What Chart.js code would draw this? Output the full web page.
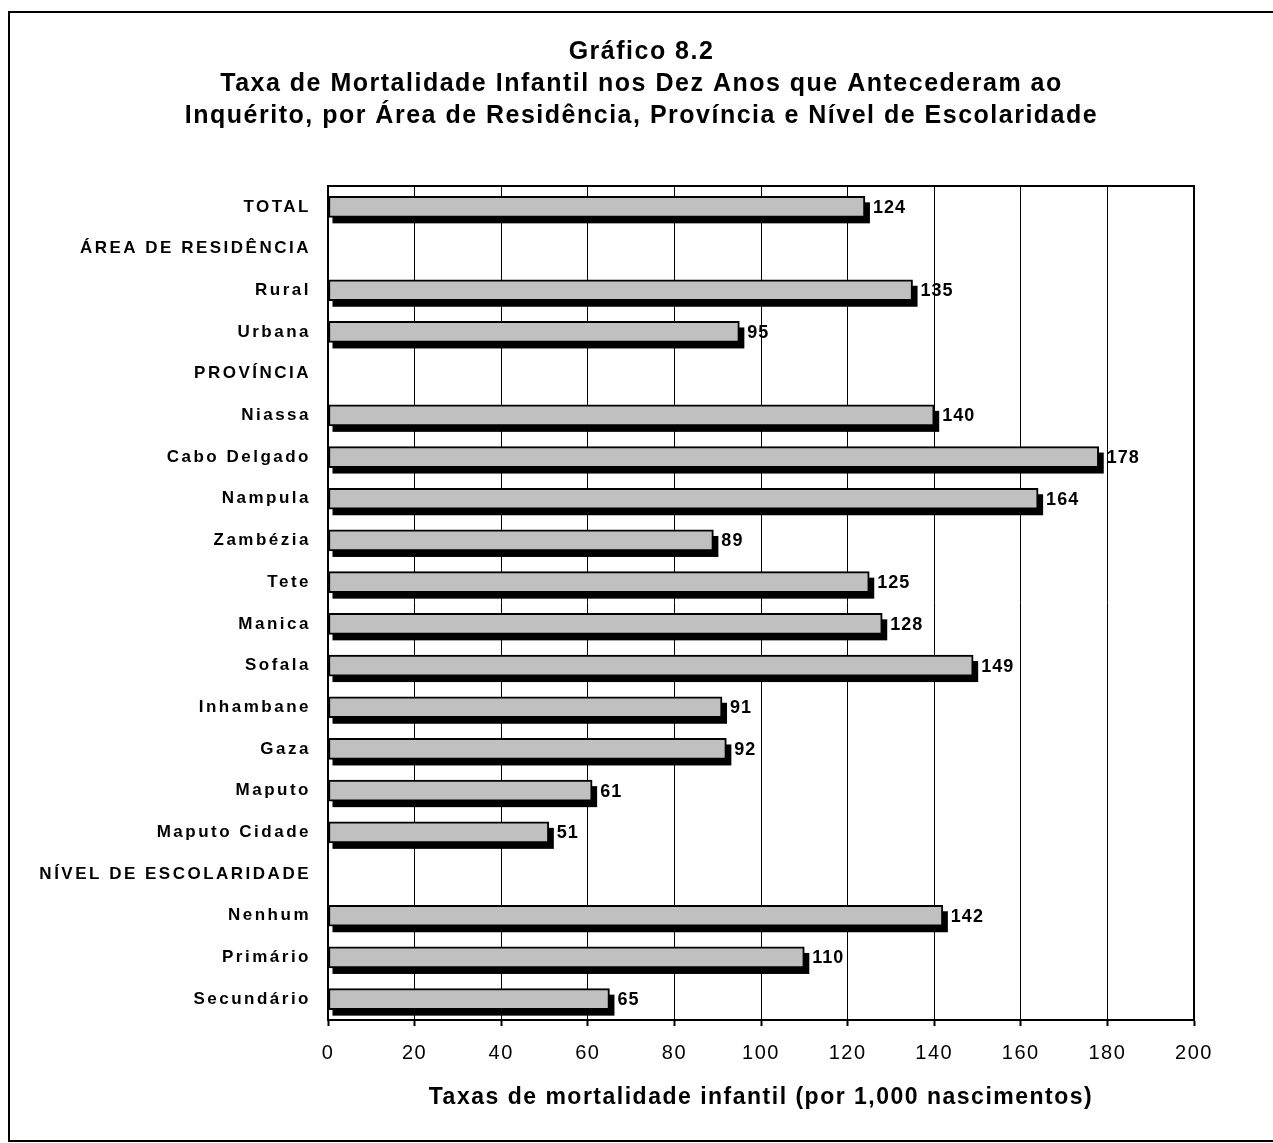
<!DOCTYPE html>
<html>
<head>
<meta charset="utf-8">
<script src="https://cdn.jsdelivr.net/npm/chart.js@4"></script>
<style>
  html, body { margin: 0; padding: 0; background: #ffffff; overflow: hidden; }
  body { width: 1273px; height: 1143px; position: relative; }
  #frame { position: absolute; left: 8px; top: 11px; width: 1300px; height: 1127px; border: 2px solid #000; box-sizing: content-box; }
  #wrap { position: absolute; left: 0; top: 0; width: 1273px; height: 1143px; }
</style>
</head>
<body>
<div id="frame"></div>
<div id="wrap"><canvas id="c" width="1273" height="1143"></canvas></div>
<script>
const titleLines = [
  "Gráfico 8.2",
  "Taxa de Mortalidade Infantil nos Dez Anos que Antecederam ao",
  "Inquérito, por Área de Residência, Província e Nível de Escolaridade"
];
const xAxisTitle = "Taxas de mortalidade infantil (por 1,000 nascimentos)";
const categories = [
  "TOTAL", "ÁREA DE RESIDÊNCIA", "Rural", "Urbana", "PROVÍNCIA",
  "Niassa", "Cabo Delgado", "Nampula", "Zambézia", "Tete", "Manica",
  "Sofala", "Inhambane", "Gaza", "Maputo", "Maputo Cidade",
  "NÍVEL DE ESCOLARIDADE", "Nenhum", "Primário", "Secundário"
];
const mortalityRates = [
  124, null, 135, 95, null,
  140, 178, 164, 89, 125, 128,
  149, 91, 92, 61, 51,
  null, 142, 110, 65
];
const xMin = 0, xMax = 200, xStep = 20;

const FONT = "'Liberation Sans', Arial, Helvetica, sans-serif";

const shadowPlugin = {
  id: 'barShadow',
  beforeDraw(chart) {
    chart.ctx.letterSpacing = '1.5px';
  },
  beforeDatasetsDraw(chart) {
    const ctx = chart.ctx;
    const meta = chart.getDatasetMeta(0);
    ctx.save();
    ctx.fillStyle = '#000000';
    meta.data.forEach((bar, i) => {
      if (mortalityRates[i] == null) return;
      const p = bar.getProps(['x', 'y', 'base', 'height'], true);
      const top = p.y - p.height / 2;
      const bottom = p.y + p.height / 2;
      ctx.fillRect(p.base + 4, top + 6, (p.x + 5) - (p.base + 4), (bottom + 6) - (top + 6));
    });
    ctx.restore();
  },
  afterDatasetsDraw(chart) {
    const ctx = chart.ctx;
    const meta = chart.getDatasetMeta(0);
    ctx.save();
    ctx.letterSpacing = '1px';
    ctx.fillStyle = '#000000';
    ctx.font = "bold 18px " + FONT;
    ctx.textAlign = 'left';
    ctx.textBaseline = 'middle';
    meta.data.forEach((bar, i) => {
      const v = mortalityRates[i];
      if (v == null) return;
      const p = bar.getProps(['x', 'y'], true);
      ctx.fillText(String(v), p.x + 8, p.y + 1);
    });
    ctx.restore();
    // letter spacing for the category labels drawn next (y ticks at z=1)
    ctx.letterSpacing = '2.5px';
  },
  afterDraw(chart) {
    const ctx = chart.ctx;
    ctx.letterSpacing = '0px';
    const a = chart.chartArea;
    ctx.save();
    ctx.strokeStyle = '#000000';
    ctx.lineWidth = 2;
    ctx.beginPath();
    ctx.moveTo(a.left, a.top);
    ctx.lineTo(a.right, a.top);
    ctx.lineTo(a.right, a.bottom);
    ctx.stroke();
    ctx.restore();
  }
};

new Chart(document.getElementById('c'), {
  type: 'bar',
  data: {
    labels: categories,
    datasets: [{
      data: mortalityRates,
      backgroundColor: '#c0c0c0',
      borderColor: '#000000',
      borderWidth: 2,
      borderSkipped: false,
      barThickness: 21
    }]
  },
  options: {
    indexAxis: 'y',
    responsive: false,
    animation: false,
    devicePixelRatio: 1,
    layout: { padding: { left: 10, right: 0, top: 0, bottom: 0 } },
    plugins: {
      legend: { display: false },
      tooltip: { enabled: false },
      title: {
        display: true,
        text: titleLines,
        color: '#000000',
        font: { family: FONT, size: 25, weight: 'bold', lineHeight: 1.28 },
        padding: { top: 36, bottom: 54 }
      }
    },
    scales: {
      x: {
        type: 'linear',
        position: 'bottom',
        min: xMin,
        max: xMax,
        ticks: {
          stepSize: xStep,
          color: '#000000',
          font: { family: FONT, size: 20 },
          padding: 15
        },
        grid: {
          color: '#000000',
          lineWidth: 1,
          drawTicks: true,
          tickLength: 6,
          tickWidth: 2,
          tickColor: '#000000'
        },
        border: { display: true, color: '#000000', width: 2 },
        title: {
          display: true,
          text: xAxisTitle,
          color: '#000000',
          font: { family: FONT, size: 23, weight: 'bold' },
          padding: { top: 0, bottom: 32 }
        },
        afterFit(scale) { scale.height = 123; }
      },
      y: {
        type: 'category',
        position: 'left',
        ticks: {
          color: '#000000',
          font: { family: FONT, size: 17, weight: 'bold' },
          padding: 17,
          z: 1,
          autoSkip: false
        },
        grid: { display: false, drawTicks: false },
        border: { display: true, color: '#000000', width: 2 },
        afterFit(scale) { scale.width = 318; }
      },
      y2: {
        type: 'category',
        position: 'right',
        ticks: { display: false },
        grid: { display: false, drawTicks: false },
        border: { display: false },
        afterFit(scale) { scale.width = 79; }
      }
    }
  },
  plugins: [shadowPlugin]
});
</script>
</body>
</html>
